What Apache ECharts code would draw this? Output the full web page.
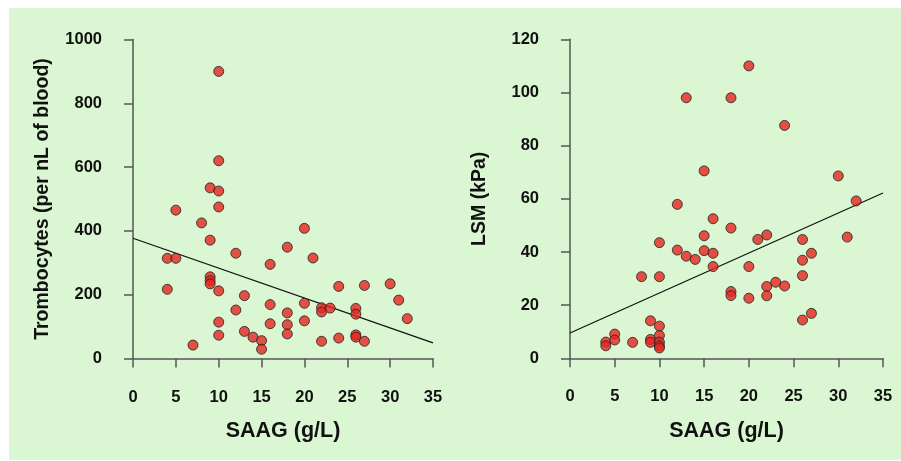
<!DOCTYPE html>
<html>
<head>
<meta charset="utf-8">
<script src="https://cdn.jsdelivr.net/npm/echarts@6/dist/echarts.min.js"></script>
<style>
  html, body { margin: 0; padding: 0; background: #fff; }
  #chart { width: 901px; height: 461px; }
</style>
</head>
<body>
<div id="chart"></div>
<script>
// left panel: SAAG vs trombocytes
const trombSaag = [10, 10, 9, 10, 10, 5, 8, 20, 9, 12, 18, 4, 5, 21, 16, 9, 9, 9, 10, 4, 13, 24, 27, 30, 31, 32,
  12, 16, 20, 22, 22, 23, 26, 26, 18, 10, 16, 18, 20, 10, 13, 14, 15, 15, 18, 7, 22, 24, 26, 26, 27];
const trombValues = [900, 620, 535, 525, 475, 465, 425, 408, 371, 330, 349, 314, 314, 315, 295, 256, 244, 234, 212, 217, 197, 226, 229, 234, 183, 125,
  152, 169, 173, 159, 146, 158, 157, 139, 143, 114, 109, 106, 118, 73, 85, 67, 56, 29, 77, 42, 54, 64, 74, 67, 54];
const trombTrendX = [0, 35];
const trombTrendY = [377, 49];

// right panel: SAAG vs LSM
const lsmSaag = [20, 13, 18, 24, 15, 30, 32, 12, 16, 18, 15, 10, 21, 22, 26, 31, 27, 26, 26, 12, 13, 14, 15, 16, 16,
  20, 8, 10, 18, 18, 20, 22, 23, 24, 22, 26, 27, 9, 10, 10, 4, 4, 5, 5, 7, 9, 9, 10, 10, 10];
const lsmValues = [110, 98, 98, 87.6, 70.5, 68.6, 59.2, 57.9, 52.5, 49, 46.1, 43.5, 44.7, 46.4, 44.7, 45.6, 39.5, 36.9, 31.1, 40.7, 38.4, 37.2, 40.5, 39.5, 34.5,
  34.5, 30.7, 30.7, 25.1, 23.6, 22.6, 27, 28.6, 27.2, 23.5, 14.4, 16.9, 14.1, 12.1, 8.6, 6.1, 4.7, 9.1, 6.9, 6, 7.1, 6, 6.1, 4.7, 3.9];
const lsmTrendX = [0, 35];
const lsmTrendY = [9.5, 62.2];

const zip = (xs, ys) => xs.map((x, i) => [x, ys[i]]);

const axisColor = '#555';
const textColor = '#111';
const font = 'Liberation Sans';

function xAxisFor(gridIndex) {
  return {
    gridIndex: gridIndex,
    type: 'value',
    min: 0, max: 35, interval: 5,
    offset: 15,
    name: 'SAAG (g/L)',
    nameLocation: 'middle',
    nameGap: 47,
    nameTextStyle: { fontFamily: font, fontWeight: 'bold', fontSize: 21.5, color: textColor },
    axisLine: { show: true, lineStyle: { color: axisColor, width: 1.5 } },
    axisTick: { show: true, length: 9, lineStyle: { color: axisColor, width: 1.5 } },
    axisLabel: { margin: 15, fontFamily: font, fontWeight: 'bold', fontSize: 16.5, color: textColor,
      formatter: v => String(v) },
    splitLine: { show: false }
  };
}

function yAxisFor(gridIndex, name, max, interval) {
  return {
    gridIndex: gridIndex,
    type: 'value',
    min: 0, max: max, interval: interval,
    offset: 15,
    name: name,
    nameLocation: 'middle',
    nameGap: 65,
    nameTextStyle: { fontFamily: font, fontWeight: 'bold', fontSize: 19.5, color: textColor },
    axisLine: { show: true, lineStyle: { color: axisColor, width: 1.5 } },
    axisTick: { show: true, length: 9, lineStyle: { color: axisColor, width: 1.5 } },
    axisLabel: { margin: 16, fontFamily: font, fontWeight: 'bold', fontSize: 16.5, color: textColor,
      formatter: v => String(v) },
    splitLine: { show: false }
  };
}

const dotStyle = { color: '#e3271f', borderColor: '#222', borderWidth: 1 };
const trendStyle = { color: '#111', width: 1.2 };

const chart = echarts.init(document.getElementById('chart'));

const option = {
  backgroundColor: '#fff',
  animation: false,
  graphic: [{
    type: 'rect',
    z: -10,
    shape: { x: 9, y: 8, width: 892, height: 452 },
    style: { fill: '#daf6d2' }
  }],
  grid: [
    { left: 133, top: 39.5, width: 300, height: 319 },
    { left: 570, top: 39.3, width: 313, height: 319 }
  ],
  xAxis: [xAxisFor(0), xAxisFor(1)],
  yAxis: [
    yAxisFor(0, 'Trombocytes (per nL of blood)', 1000, 200),
    yAxisFor(1, 'LSM (kPa)', 120, 20)
  ],
  series: [
    {
      type: 'line', xAxisIndex: 0, yAxisIndex: 0,
      data: zip(trombTrendX, trombTrendY),
      symbol: 'none', lineStyle: trendStyle, z: 1
    },
    {
      type: 'scatter', xAxisIndex: 0, yAxisIndex: 0,
      data: zip(trombSaag, trombValues),
      symbolSize: 10, itemStyle: dotStyle, z: 2
    },
    {
      type: 'line', xAxisIndex: 1, yAxisIndex: 1,
      data: zip(lsmTrendX, lsmTrendY),
      symbol: 'none', lineStyle: trendStyle, z: 1
    },
    {
      type: 'scatter', xAxisIndex: 1, yAxisIndex: 1,
      data: zip(lsmSaag, lsmValues),
      symbolSize: 10, itemStyle: dotStyle, z: 2
    }
  ]
};

chart.setOption(option);
</script>
</body>
</html>
